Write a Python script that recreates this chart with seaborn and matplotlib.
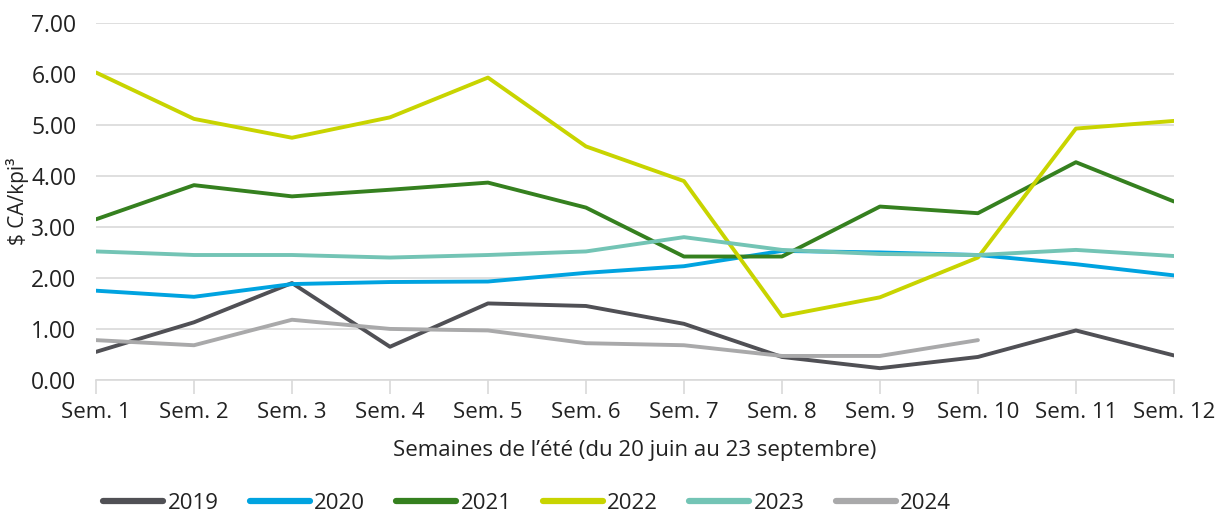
import numpy as np
import pandas as pd
import matplotlib
matplotlib.use("Agg")
import matplotlib.pyplot as plt
import seaborn as sns

weeks = [f"Sem. {i}" for i in range(1, 13)]
years = ["2019", "2020", "2021", "2022", "2023", "2024"]
v2019 = [0.55, 1.13, 1.90, 0.65, 1.50, 1.45, 1.10, 0.45, 0.23, 0.45, 0.97, 0.48]
v2020 = [1.75, 1.63, 1.88, 1.92, 1.93, 2.10, 2.23, 2.53, 2.50, 2.45, 2.27, 2.05]
v2021 = [3.15, 3.82, 3.60, 3.73, 3.87, 3.38, 2.42, 2.42, 3.40, 3.27, 4.27, 3.50]
v2022 = [6.03, 5.12, 4.75, 5.15, 5.93, 4.58, 3.90, 1.25, 1.62, 2.40, 4.93, 5.08]
v2023 = [2.52, 2.45, 2.45, 2.40, 2.45, 2.52, 2.80, 2.55, 2.47, 2.45, 2.55, 2.43]
v2024 = [0.78, 0.68, 1.18, 1.00, 0.97, 0.72, 0.68, 0.47, 0.47, 0.78, np.nan, np.nan]
colors = ["#505055", "#00a3e0", "#35801f", "#c8d400", "#73c4b5", "#a9a9aa"]

series = [v2019, v2020, v2021, v2022, v2023, v2024]
rows = []
for y, vals in zip(years, series):
    for i, (w, v) in enumerate(zip(weeks, vals)):
        rows.append({"idx": i, "week": w, "year": y, "value": v})
df = pd.DataFrame(rows)

sns.set_theme(style="white")
plt.rcParams["font.family"] = ["Open Sans", "DejaVu Sans"]

fig = plt.figure(figsize=(12.18, 5.12), dpi=100)
ax = fig.add_axes([0.0788, 0.258, 0.885, 0.697])

sns.lineplot(data=df, x="idx", y="value", hue="year", palette=colors,
             linewidth=2.8, ax=ax, legend=True, sort=False)

ax.set_xlim(0, 11)
ax.set_ylim(0, 7)
ax.set_yticks(np.arange(0, 7.01, 1))
ax.set_yticklabels([f"{t:.2f}" for t in np.arange(0, 7.01, 1)], fontsize=16.5, color="#222222")
ax.set_xticks(range(12))
ax.set_xticklabels(weeks, fontsize=16, color="#222222")
ax.yaxis.grid(True, color="#d9d9d9", linewidth=1.2)
ax.set_axisbelow(True)
for s in ["left", "right", "top"]:
    ax.spines[s].set_visible(False)
ax.spines["bottom"].set_color("#d9d9d9")
ax.spines["bottom"].set_linewidth(1.2)
ax.tick_params(axis="x", bottom=True, length=10, width=1.2, color="#d9d9d9", pad=6)
ax.tick_params(axis="y", left=False, pad=8)

ax.set_xlabel("Semaines de l’été (du 20 juin au 23 septembre)", fontsize=16, color="#222222", labelpad=12)
ax.set_ylabel("$ CA/kpi³", fontsize=15, color="#222222")
ax.yaxis.set_label_coords(-0.062, 0.5)

handles, labels = ax.get_legend_handles_labels()
for h in handles:
    h.set_linewidth(4.5)
ax.legend(handles, labels, loc="center", bbox_to_anchor=(0.40, -0.345), ncol=6,
          frameon=False, fontsize=16, handlelength=2.7, handletextpad=0.2, columnspacing=1.4,
          labelcolor="#222222")

fig.savefig("out.png", dpi=100)
